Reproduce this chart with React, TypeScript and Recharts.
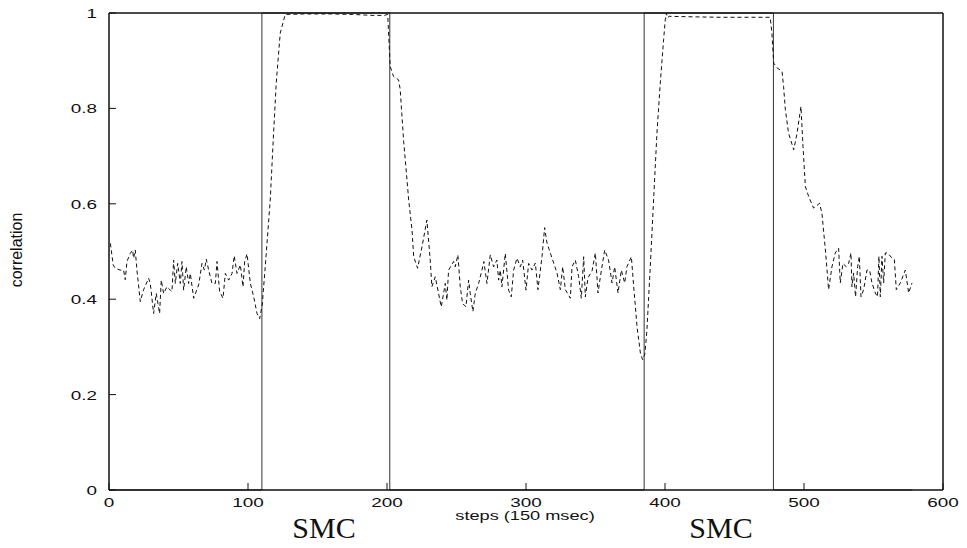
import { LineChart, Line, XAxis, YAxis } from "recharts";

// axis ticks
const X_TICKS = [0, 100, 200, 300, 400, 500, 600];
const Y_TICKS = [0, 0.2, 0.4, 0.6, 0.8, 1];

// SMC on/off steps (solid square wave)
const SMC_ON = [110, 385];
const SMC_OFF = [202, 478];
const LAST_STEP = 578;

// correlation (dashed), [step, value]
const CORRELATION: [number, number][] = [
  [1, 0.517], [3, 0.472], [4.5, 0.465], [8, 0.461], [10.5, 0.461], [11.7, 0.441], [12.9, 0.479],
  [15.3, 0.496], [17, 0.503], [17.7, 0.486], [18.9, 0.503], [20.1, 0.461], [22.5, 0.395], [24.9, 0.42],
  [28.5, 0.444], [29.7, 0.433], [32.1, 0.37], [34, 0.412], [36.4, 0.37], [37.6, 0.44], [39.3, 0.412],
  [41.7, 0.426], [44.1, 0.419], [45.3, 0.416], [46.5, 0.482], [47.7, 0.433], [49.4, 0.475], [51.3, 0.433],
  [52.5, 0.479], [53.7, 0.419], [55.6, 0.468], [57.3, 0.433], [58.5, 0.454], [60.9, 0.402], [64.5, 0.43],
  [66.9, 0.475], [68.6, 0.461], [70, 0.484], [71.7, 0.461], [74.1, 0.433], [76.5, 0.433], [77.7, 0.479],
  [79.6, 0.416], [82, 0.402], [83.7, 0.454], [86.1, 0.44], [88.5, 0.454], [90.1, 0.491], [92.1, 0.454],
  [94.5, 0.472], [96.4, 0.426], [97.6, 0.479], [99.3, 0.495], [101.7, 0.433], [104.1, 0.405], [106.5, 0.37],
  [108.4, 0.359], [110.3, 0.39], [112.4, 0.468], [116, 0.608], [118.4, 0.748], [120.3, 0.853], [123.2, 0.958],
  [126.8, 0.997], [140, 0.998], [160, 0.998], [175, 0.997], [190, 0.995], [198, 0.995], [200.5, 0.997],
  [202.3, 0.888], [204.7, 0.867], [208.3, 0.86], [209.5, 0.84], [212, 0.73], [214.4, 0.65], [215.6, 0.608],
  [218, 0.545], [219.2, 0.489], [222, 0.465], [225.2, 0.51], [228.7, 0.566], [231.1, 0.482], [232.3, 0.426],
  [234.7, 0.447], [237.1, 0.412], [239, 0.384], [240.7, 0.412], [241.9, 0.433], [243.1, 0.398], [244.3, 0.461],
  [247.9, 0.479], [249.1, 0.468], [251, 0.493], [252.7, 0.426], [254.4, 0.391], [256.8, 0.384], [258.7, 0.44],
  [259.9, 0.412], [261.8, 0.374], [263.5, 0.412], [265.9, 0.433], [268.3, 0.461], [269.7, 0.479], [271.9, 0.433],
  [274.3, 0.493], [276.7, 0.468], [279.1, 0.482], [280.3, 0.44], [281.5, 0.461], [282.7, 0.426], [285.1, 0.496],
  [287.5, 0.419], [289.4, 0.405], [291.1, 0.461], [293.5, 0.486], [295.9, 0.468], [297.6, 0.482], [300, 0.419],
  [301.9, 0.475], [304.3, 0.461], [306.7, 0.476], [308.6, 0.42], [311.5, 0.489], [313.4, 0.55], [315.1, 0.518],
  [316.8, 0.503], [319.9, 0.476], [322.3, 0.455], [324.7, 0.42], [326.4, 0.468], [328.3, 0.42], [331.9, 0.402],
  [333.1, 0.468], [335.5, 0.482], [337.9, 0.447], [339.8, 0.402], [341.5, 0.489], [342.7, 0.405], [344.6, 0.445],
  [347.5, 0.459], [349.9, 0.497], [351.8, 0.413], [353.5, 0.447], [356.6, 0.503], [359.4, 0.482], [361.9, 0.434],
  [363.8, 0.468], [366.2, 0.413], [368.6, 0.461], [371, 0.434], [372.6, 0.468], [375.8, 0.489], [377.5, 0.426],
  [379.9, 0.342], [382.3, 0.287], [383.9, 0.273], [385.5, 0.285], [387, 0.335], [389.4, 0.468], [391.8, 0.608],
  [394.2, 0.748], [396.6, 0.853], [399, 0.944], [400.2, 0.986], [401, 1.0], [401.8, 0.99], [403, 0.993],
  [420, 0.992], [440, 0.991], [460, 0.991], [475.7, 0.991], [476.9, 0.958], [478.2, 0.895], [480.6, 0.885],
  [484.2, 0.878], [485.3, 0.846], [486.6, 0.797], [488.9, 0.748], [492.6, 0.713], [495, 0.748], [497.8, 0.804],
  [499.3, 0.72], [501, 0.636], [503.4, 0.615], [506.9, 0.591], [511.2, 0.601], [512.9, 0.58], [515.4, 0.503],
  [517.7, 0.42], [520.1, 0.468], [522.5, 0.497], [524.9, 0.507], [526.1, 0.434], [528, 0.475], [530.4, 0.468],
  [532.1, 0.475], [533.8, 0.497], [534.5, 0.426], [535.7, 0.455], [537.1, 0.405], [538.6, 0.468], [539.8, 0.49],
  [541, 0.405], [542.9, 0.42], [545.3, 0.461], [547.2, 0.461], [548.9, 0.434], [551.3, 0.413], [552.9, 0.405],
  [553.9, 0.49], [554.9, 0.405], [556.1, 0.49], [557.3, 0.434], [558.5, 0.497], [560.2, 0.497], [563.3, 0.486],
  [565, 0.483], [566.4, 0.42], [569.3, 0.434], [572.9, 0.461], [575.3, 0.413], [577.7, 0.434],
];

const corrData = CORRELATION.map(([x, y]) => ({ x, y }));
const smcData = [
  { x: 0, y: 0 },
  ...SMC_ON.flatMap((on, i) => [
    { x: on, y: 1 },
    { x: SMC_OFF[i], y: 0 },
  ]),
  { x: LAST_STEP, y: 0 },
];

const INK = "#111";
const SANS = '"Liberation Sans", Arial, Helvetica, sans-serif';
const SERIF = '"Liberation Serif", "Times New Roman", serif';
const TICK_LEN = 7;
const STRETCH = "scale(1.4,1)"; // the original's sans text is drawn wide

const fmtY = (v: number) => (v === 0 || v === 1 ? String(v) : v.toFixed(1));

function BottomTick({ x, y, payload }: any) {
  return (
    <g>
      <line x1={x} y1={y} x2={x} y2={y - TICK_LEN} stroke={INK} />
      <text transform={`translate(${x},${y + 17}) ${STRETCH}`} textAnchor="middle" fontFamily={SANS} fontSize={13.5} fill={INK}>
        {payload.value}
      </text>
    </g>
  );
}

function LeftTick({ x, y, payload }: any) {
  return (
    <g>
      <line x1={x} y1={y} x2={x + TICK_LEN} y2={y} stroke={INK} />
      <text transform={`translate(${x - 12},${y + 5}) ${STRETCH}`} textAnchor="end" fontFamily={SANS} fontSize={13.5} fill={INK}>
        {fmtY(payload.value)}
      </text>
    </g>
  );
}

const TopTick = ({ x, y }: any) => <line x1={x} y1={y} x2={x} y2={y + TICK_LEN} stroke={INK} />;
const RightTick = ({ x, y }: any) => <line x1={x} y1={y} x2={x - TICK_LEN} y2={y} stroke={INK} />;

const frame = { stroke: INK, strokeWidth: 1.5 };

export default function App() {
  return (
    <div style={{ position: "absolute", left: 0, top: 0, width: 967, height: 548, background: "#fff" }}>
      <LineChart width={967} height={548} margin={{ top: 12, right: 23, bottom: 57, left: 108 }}>
        <XAxis dataKey="x" type="number" domain={[0, 600]} ticks={X_TICKS} height={1} tickSize={0} tickMargin={0}
          tickLine={false} axisLine={frame} tick={(p: any) => <BottomTick {...p} />} interval={0} />
        <XAxis xAxisId="top" orientation="top" type="number" domain={[0, 600]} ticks={X_TICKS} height={1} tickSize={0}
          tickMargin={0} tickLine={false} axisLine={frame} tick={(p: any) => <TopTick {...p} />} interval={0} />
        <YAxis type="number" domain={[0, 1]} ticks={Y_TICKS} width={1} tickSize={0} tickMargin={0} tickLine={false}
          axisLine={frame} tick={(p: any) => <LeftTick {...p} />} interval={0} />
        <YAxis yAxisId="right" orientation="right" type="number" domain={[0, 1]} ticks={Y_TICKS} width={1} tickSize={0}
          tickMargin={0} tickLine={false} axisLine={frame} tick={(p: any) => <RightTick {...p} />} interval={0} />
        <Line data={smcData} dataKey="y" type="stepAfter" stroke="#333" strokeWidth={1} dot={false} activeDot={false}
          isAnimationActive={false} />
        <Line data={corrData} dataKey="y" type="linear" stroke={INK} strokeWidth={1} strokeDasharray="4 3" dot={false}
          activeDot={false} isAnimationActive={false} />
      </LineChart>
      <svg width={967} height={548} style={{ position: "absolute", left: 0, top: 0, pointerEvents: "none" }}>
        <text transform="translate(22,250) rotate(-90)" textAnchor="middle" fontFamily={SANS} fontSize={16} fill={INK}>
          correlation
        </text>
        <text transform={`translate(525,520) ${STRETCH}`} textAnchor="middle" fontFamily={SANS} fontSize={13} fill={INK}>
          steps (150 msec)
        </text>
        <text x={324} y={538} textAnchor="middle" fontFamily={SERIF} fontSize={30} fill={INK}>
          SMC
        </text>
        <text x={721} y={538} textAnchor="middle" fontFamily={SERIF} fontSize={30} fill={INK}>
          SMC
        </text>
      </svg>
    </div>
  );
}
